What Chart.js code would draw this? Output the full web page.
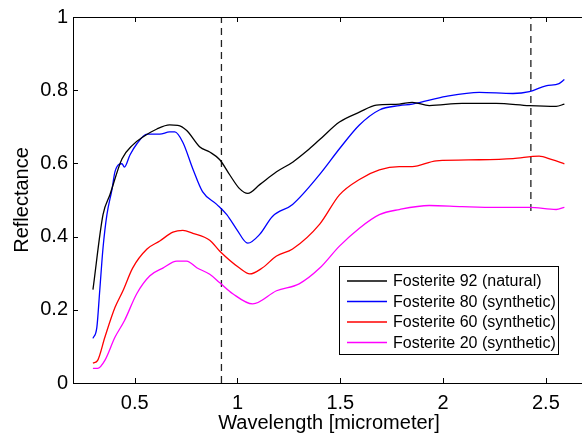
<!DOCTYPE html>
<html>
<head>
<meta charset="utf-8">
<script src="https://cdn.jsdelivr.net/npm/chart.js@4.4.1/dist/chart.umd.min.js"></script>
<style>
  html, body { margin: 0; padding: 0; overflow: hidden; background: #fff; }
  #wrap { position: relative; width: 590px; height: 436px; }
</style>
</head>
<body>
<div id="wrap"><canvas id="chart"></canvas></div>
<script>
// Fosterite 92 (natural)
const fo92X = [0.297, 0.346, 0.38, 0.438, 0.49, 0.54, 0.608, 0.67, 0.71, 0.753, 0.817, 0.865, 0.914, 0.962, 1.01, 1.05, 1.108, 1.19, 1.27, 1.34, 1.40, 1.496, 1.593, 1.675, 1.787, 1.85, 1.933, 2.093, 2.258, 2.42, 2.55, 2.59];
const fo92Y = [0.255, 0.46, 0.515, 0.612, 0.65, 0.672, 0.694, 0.705, 0.704, 0.69, 0.645, 0.631, 0.61, 0.569, 0.531, 0.518, 0.542, 0.577, 0.604, 0.635, 0.665, 0.713, 0.74, 0.759, 0.762, 0.767, 0.758, 0.764, 0.764, 0.758, 0.756, 0.762];
// Fosterite 80 (synthetic)
const fo80X = [0.297, 0.316, 0.33, 0.346, 0.365, 0.39, 0.404, 0.438, 0.45, 0.477, 0.51, 0.56, 0.622, 0.67, 0.695, 0.734, 0.783, 0.83, 0.899, 0.948, 0.996, 1.05, 1.108, 1.17, 1.268, 1.40, 1.496, 1.593, 1.69, 1.787, 1.85, 2.015, 2.176, 2.34, 2.42, 2.50, 2.564, 2.59];
const fo80Y = [0.122, 0.152, 0.252, 0.369, 0.46, 0.53, 0.577, 0.599, 0.59, 0.623, 0.653, 0.68, 0.68, 0.686, 0.686, 0.658, 0.585, 0.523, 0.488, 0.46, 0.42, 0.382, 0.406, 0.455, 0.488, 0.570, 0.64, 0.705, 0.746, 0.758, 0.762, 0.783, 0.794, 0.791, 0.796, 0.812, 0.818, 0.829];
// Fosterite 60 (synthetic)
const fo60X = [0.297, 0.32, 0.355, 0.404, 0.443, 0.49, 0.56, 0.622, 0.686, 0.734, 0.783, 0.865, 0.914, 1.01, 1.06, 1.12, 1.19, 1.268, 1.40, 1.496, 1.593, 1.69, 1.787, 1.85, 1.967, 2.176, 2.34, 2.467, 2.53, 2.59];
const fo60Y = [0.054, 0.062, 0.125, 0.206, 0.252, 0.314, 0.366, 0.388, 0.412, 0.417, 0.409, 0.39, 0.36, 0.314, 0.298, 0.314, 0.347, 0.366, 0.434, 0.514, 0.556, 0.582, 0.591, 0.591, 0.607, 0.61, 0.613, 0.62, 0.61, 0.599];
// Fosterite 20 (synthetic)
const fo20X = [0.297, 0.32, 0.355, 0.404, 0.45, 0.51, 0.574, 0.637, 0.705, 0.753, 0.802, 0.865, 0.914, 0.977, 1.074, 1.19, 1.30, 1.40, 1.496, 1.593, 1.69, 1.787, 1.933, 2.093, 2.258, 2.42, 2.55, 2.59];
const fo20Y = [0.04, 0.04, 0.062, 0.125, 0.17, 0.244, 0.293, 0.314, 0.333, 0.333, 0.315, 0.297, 0.274, 0.244, 0.216, 0.252, 0.271, 0.314, 0.374, 0.423, 0.46, 0.474, 0.485, 0.482, 0.48, 0.48, 0.474, 0.48];

// dashed marker lines
const mark1X = [0.922, 0.922];
const mark1Y = [0, 1];
const mark2X = [2.427, 2.427];
const mark2Y = [0.47, 1];

const seriesLabels = ['Fosterite 92 (natural)', 'Fosterite 80 (synthetic)', 'Fosterite 60 (synthetic)', 'Fosterite 20 (synthetic)'];
const xTicks = [0.5, 1, 1.5, 2, 2.5];
const yTicks = [0, 0.2, 0.4, 0.6, 0.8, 1];

const FONT = '"Liberation Sans", Arial, Helvetica, sans-serif';

function pts(xs, ys) {
    return xs.map((x, i) => ({ x: x, y: ys[i] }));
}

function curve(label, xs, ys, color) {
    return {
        label: label,
        data: pts(xs, ys),
        borderColor: color,
        borderWidth: 1.3,
        pointRadius: 0,
        fill: false,
        cubicInterpolationMode: 'monotone'
    };
}

function marker(xs, ys) {
    return {
        label: '',
        data: pts(xs, ys),
        borderColor: '#222',
        borderWidth: 1.3,
        borderDash: [7, 5],
        pointRadius: 0,
        fill: false,
        isMarker: true
    };
}

// axes box, inward ticks, titles, legend
const matlabLook = {
    id: 'matlabLook',
    afterDraw(chart) {
        const ctx = chart.ctx;
        const a = chart.chartArea;
        const xs = chart.scales.x, ys = chart.scales.y;
        ctx.save();
        ctx.strokeStyle = '#000';
        ctx.lineWidth = 1;
        ctx.strokeRect(a.left + 0.5, a.top + 0.5, a.right - a.left, a.bottom - a.top);
        ctx.beginPath();
        xTicks.forEach(v => {
            const p = Math.round(xs.getPixelForValue(v)) + 0.5;
            ctx.moveTo(p, a.bottom); ctx.lineTo(p, a.bottom - 5);
            ctx.moveTo(p, a.top); ctx.lineTo(p, a.top + 5);
        });
        yTicks.forEach(v => {
            const p = Math.round(ys.getPixelForValue(v)) + 0.5;
            ctx.moveTo(a.left, p); ctx.lineTo(a.left + 5, p);
            ctx.moveTo(a.right, p); ctx.lineTo(a.right - 5, p);
        });
        ctx.stroke();

        // axis titles
        ctx.fillStyle = '#000';
        ctx.font = '20px ' + FONT;
        ctx.textAlign = 'center';
        ctx.textBaseline = 'middle';
        ctx.fillText('Wavelength [micrometer]', (a.left + a.right) / 2 - 1, 423);
        ctx.save();
        ctx.translate(22, (a.top + a.bottom) / 2);
        ctx.rotate(-Math.PI / 2);
        ctx.fillText('Reflectance', 0, 0);
        ctx.restore();

        // legend
        const bx = 339, by = 266, bw = 219, bh = 88;
        ctx.fillStyle = '#fff';
        ctx.fillRect(bx, by, bw, bh);
        ctx.strokeStyle = '#000';
        ctx.lineWidth = 1;
        ctx.strokeRect(bx + 0.5, by + 0.5, bw, bh);
        ctx.font = '16px ' + FONT;
        ctx.textAlign = 'left';
        const curves = chart.data.datasets.filter(d => !d.isMarker);
        curves.forEach((d, i) => {
            const yy = 281 + i * 20.5;
            ctx.strokeStyle = d.borderColor;
            ctx.lineWidth = 1.5;
            ctx.beginPath();
            ctx.moveTo(347, yy); ctx.lineTo(387, yy);
            ctx.stroke();
            ctx.fillStyle = '#000';
            ctx.fillText(d.label, 393, yy + 1);
        });
        ctx.restore();
    }
};

new Chart(document.getElementById('chart').getContext('2d'), {
    type: 'line',
    data: {
        datasets: [
            curve(seriesLabels[0], fo92X, fo92Y, '#000000'),
            curve(seriesLabels[1], fo80X, fo80Y, '#0000ff'),
            curve(seriesLabels[2], fo60X, fo60Y, '#ff0000'),
            curve(seriesLabels[3], fo20X, fo20Y, '#ff00ff'),
            marker(mark1X, mark1Y),
            marker(mark2X, mark2Y)
        ]
    },
    options: {
        responsive: true,
        maintainAspectRatio: false,
        animation: false,
        layout: { padding: { top: 14, right: 3, left: 0, bottom: 0 } },
        plugins: {
            legend: { display: false },
            tooltip: { enabled: false }
        },
        scales: {
            x: {
                type: 'linear',
                min: 0.2,
                max: 2.7,
                afterBuildTicks: s => { s.ticks = xTicks.map(v => ({ value: v })); },
                afterFit: s => { s.height = 53; },
                grid: { display: false, drawTicks: false },
                border: { display: false },
                ticks: { color: '#000', padding: 8, font: { family: FONT, size: 20 }, maxRotation: 0, callback: v => String(v) }
            },
            y: {
                type: 'linear',
                min: 0,
                max: 1,
                afterBuildTicks: s => { s.ticks = yTicks.map(v => ({ value: v })); },
                afterFit: s => { s.width = 73; },
                grid: { display: false, drawTicks: false },
                border: { display: false },
                ticks: { color: '#000', padding: 5, font: { family: FONT, size: 20 }, callback: v => String(v) }
            }
        }
    },
    plugins: [matlabLook]
});
</script>
</body>
</html>
